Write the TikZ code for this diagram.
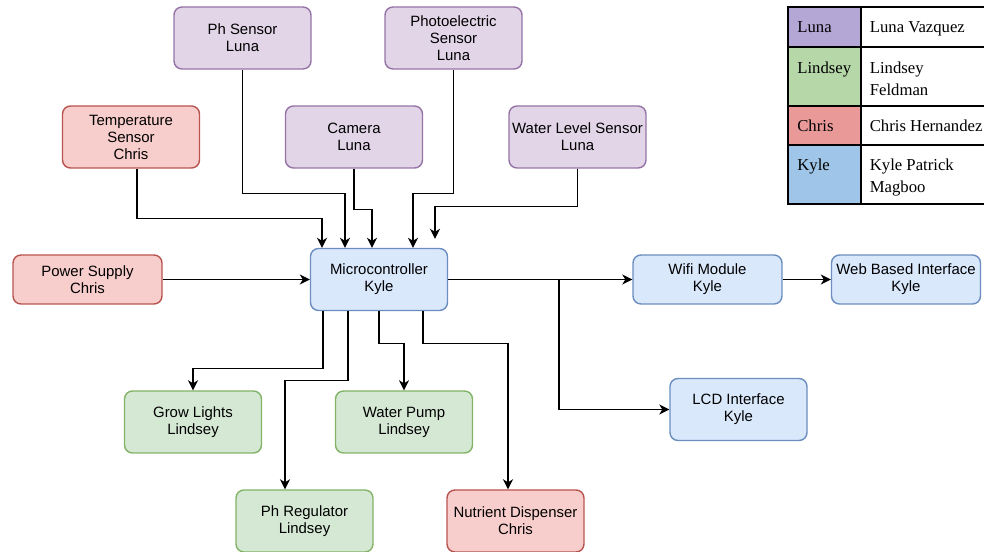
\documentclass[tikz,border=0pt]{standalone}
\usepackage{fontspec}
\setmainfont{Liberation Sans}
\newfontfamily\legendfont{Liberation Serif}
\usetikzlibrary{shapes,arrows.meta}
\definecolor{lunaFill}{HTML}{E1D5E7}
\definecolor{lunaLine}{HTML}{9673A6}
\definecolor{chrisFill}{HTML}{F8CECC}
\definecolor{chrisLine}{HTML}{B85450}
\definecolor{kyleFill}{HTML}{DAE8FC}
\definecolor{kyleLine}{HTML}{6C8EBF}
\definecolor{lindseyFill}{HTML}{D5E8D4}
\definecolor{lindseyLine}{HTML}{82B366}
\definecolor{lunaKey}{HTML}{B4A7D6}
\definecolor{lindseyKey}{HTML}{B6D7A8}
\definecolor{chrisKey}{HTML}{EA9999}
\definecolor{kyleKey}{HTML}{9FC5E8}
\tikzstyle{block} = [rectangle, draw, line width=0.8pt, rounded corners=0.16cm,
    text centered, align=center, minimum width=2.74cm, minimum height=1.24cm,
    inner sep=1pt, font=\fontsize{8.5}{9.7}\selectfont]
\tikzstyle{wide} = [minimum width=2.98cm, minimum height=0.98cm]
\tikzstyle{luna} = [block, fill=lunaFill, draw=lunaLine]
\tikzstyle{chris} = [block, fill=chrisFill, draw=chrisLine]
\tikzstyle{kyle} = [block, fill=kyleFill, draw=kyleLine]
\tikzstyle{lindsey} = [block, fill=lindseyFill, draw=lindseyLine]
\tikzstyle{keytext} = [anchor=north west, inner sep=0pt, align=left,
    font=\legendfont\fontsize{9.5}{12.5}\selectfont]
\tikzset{
  line/.style ={draw, line width=0.75pt, -{Stealth[length=2mm,width=2mm,inset=0.6mm]}}
}
\begin{document}
\begin{tikzpicture}
   \useasboundingbox (0,0) rectangle (19.68,-11.04);
   % sensors
   \node [luna] (ph_sensor) at (4.85,-0.76) {Ph Sensor\\Luna};
   \node [luna] (photo_sensor) at (9.07,-0.76) {Photoelectric\\Sensor\\Luna};
   \node [chris] (temp_sensor) at (2.62,-2.74) {Temperature\\Sensor\\Chris};
   \node [luna] (camera) at (7.08,-2.74) {Camera\\Luna};
   \node [luna] (water_level) at (11.55,-2.74) {Water Level Sensor\\Luna};
   % middle row
   \node [chris,wide] (power) at (1.75,-5.59) {Power Supply\\Chris};
   \node [kyle] (micro) at (7.58,-5.59) {Microcontroller\\Kyle};
   \node [kyle,wide] (wifi) at (14.15,-5.59) {Wifi Module\\Kyle};
   \node [kyle,wide] (web) at (18.12,-5.59) {Web Based Interface\\Kyle};
   \node [kyle] (lcd) at (14.77,-8.19) {LCD Interface\\Kyle};
   % outputs
   \node [lindsey] (grow_lights) at (3.86,-8.44) {Grow Lights\\Lindsey};
   \node [lindsey] (water_pump) at (8.08,-8.44) {Water Pump\\Lindsey};
   \node [lindsey] (ph_regulator) at (6.09,-10.42) {Ph Regulator\\Lindsey};
   \node [chris] (nutrient) at (10.31,-10.42) {Nutrient Dispenser\\Chris};
   \coordinate (split) at (11.18,-5.59);

   \path [line] ([xshift=0.12cm]temp_sensor.south) -- ++(0,-1.0) -| ([xshift=-1.14cm]micro.north);
   \path [line] (ph_sensor.south) -- ++(0,-2.48) -| ([xshift=-0.68cm]micro.north);
   \path [line] (camera.south) -- ++(0,-0.82) -| ([xshift=-0.14cm]micro.north);
   \path [line] (photo_sensor.south) -- ++(0,-2.48) -| ([xshift=0.68cm]micro.north);
   \path [line, shorten >=0.18cm] (water_level.south) -- ++(0,-0.76) -| ([xshift=1.12cm]micro.north);
   \path [line] (power) -- (micro);
   \path [line] (micro) -- (wifi);
   \path [line] (wifi) -- (web);
   \path [line] (split) |- (lcd);
   \path [line] ([xshift=-1.12cm]micro.south) -- ++(0,-1.14) -| (grow_lights.north);
   \path [line] ([xshift=-0.62cm]micro.south) -- ++(0,-1.38) -| ([xshift=-0.39cm]ph_regulator.north);
   \path [line] (micro.south) -- ++(0,-0.64) -| (water_pump.north);
   \path [line] ([xshift=0.88cm]micro.south) -- ++(0,-0.64) -| ([xshift=-0.15cm]nutrient.north);

   % legend
   \fill [lunaKey] (15.76,-0.14) rectangle (17.22,-0.94);
   \fill [lindseyKey] (15.76,-0.94) rectangle (17.22,-2.12);
   \fill [chrisKey] (15.76,-2.12) rectangle (17.22,-2.90);
   \fill [kyleKey] (15.76,-2.90) rectangle (17.22,-4.08);
   \draw [line width=0.6pt] (15.76,-0.14) rectangle (19.9,-4.08);
   \draw [line width=0.6pt] (17.22,-0.14) -- (17.22,-4.08);
   \draw [line width=0.6pt] (15.76,-0.94) -- (19.9,-0.94);
   \draw [line width=0.6pt] (15.76,-2.12) -- (19.9,-2.12);
   \draw [line width=0.6pt] (15.76,-2.90) -- (19.9,-2.90);
   \node [keytext] (key_luna) at (15.94,-0.43) {Luna};
   \node [keytext] (name_luna) at (17.39,-0.43) {Luna Vazquez};
   \node [keytext] (key_lindsey) at (15.94,-1.23) {Lindsey};
   \node [keytext] (name_lindsey) at (17.39,-1.23) {Lindsey\\Feldman};
   \node [keytext] (key_chris) at (15.94,-2.40) {Chris};
   \node [keytext] (name_chris) at (17.39,-2.40) {Chris Hernandez};
   \node [keytext] (key_kyle) at (15.94,-3.18) {Kyle};
   \node [keytext] (name_kyle) at (17.39,-3.18) {Kyle Patrick\\Magboo};
\end{tikzpicture}
\end{document}
